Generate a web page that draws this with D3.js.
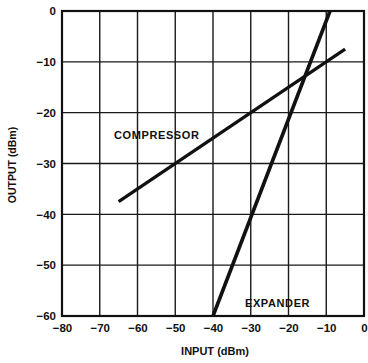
<!DOCTYPE html>
<html>
<head>
<meta charset="utf-8">
<script src="https://cdn.jsdelivr.net/npm/d3@7"></script>
<style>
  body { margin: 0; background: #fff; }
  text { font-family: "Liberation Sans", Arial, sans-serif; font-weight: bold; fill: #111; }
</style>
</head>
<body>
<div id="container"></div>
<script>
/* DATA */
const xTicks = [-80, -70, -60, -50, -40, -30, -20, -10, 0];
const yTicks = [0, -10, -20, -30, -40, -50, -60];
// compressor 2:1, expander 1:2 (input dBm, output dBm)
const compressorIn = [-65, -5];
const compressorOut = [-37.5, -7.5];
const expanderIn = [-40, -9];
const expanderOut = [-60, 0];

/* SIZE */
const width = 368,
  height = 363,
  margin = { top: 11, bottom: 47, left: 62, right: 4 };

const svg = d3.select('#container')
  .append('svg')
  .attr('width', width)
  .attr('height', height);

const xScale = d3.scaleLinear()
  .domain([-80, 0])
  .range([margin.left, width - margin.right]);

const yScale = d3.scaleLinear()
  .domain([-60, 0])
  .range([height - margin.bottom, margin.top]);

const fmt = d => d === 0 ? '0' : '\u2212' + Math.abs(d);

// grid lines
svg.append('g')
  .selectAll('line.vgrid')
  .data(xTicks)
  .join('line')
  .attr('class', 'vgrid')
  .attr('x1', d => xScale(d)).attr('x2', d => xScale(d))
  .attr('y1', yScale(0)).attr('y2', yScale(-60))
  .attr('stroke', '#1a1a1a')
  .attr('stroke-width', 1.4);

svg.append('g')
  .selectAll('line.hgrid')
  .data(yTicks)
  .join('line')
  .attr('class', 'hgrid')
  .attr('x1', xScale(-80)).attr('x2', xScale(0))
  .attr('y1', d => yScale(d)).attr('y2', d => yScale(d))
  .attr('stroke', '#1a1a1a')
  .attr('stroke-width', 1.4);

// frame
svg.append('rect')
  .attr('x', xScale(-80))
  .attr('y', yScale(0))
  .attr('width', xScale(0) - xScale(-80))
  .attr('height', yScale(-60) - yScale(0))
  .attr('fill', 'none')
  .attr('stroke', '#111')
  .attr('stroke-width', 2.2);

// axes (labels only)
const xAxis = d3.axisBottom(xScale).tickValues(xTicks).tickFormat(fmt).tickSize(0).tickPadding(8);
const yAxis = d3.axisLeft(yScale).tickValues(yTicks).tickFormat(fmt).tickSize(0).tickPadding(6);

svg.append('g')
  .attr('transform', `translate(0, ${yScale(-60)})`)
  .call(xAxis)
  .call(g => g.select('.domain').remove())
  .selectAll('text')
  .attr('font-size', 11.5)
  .attr('font-family', '"Liberation Sans", Arial, sans-serif')
  .attr('font-weight', 'bold')
  .attr('fill', '#111');

svg.append('g')
  .attr('transform', `translate(${xScale(-80)}, 0)`)
  .call(yAxis)
  .call(g => g.select('.domain').remove())
  .selectAll('text')
  .attr('font-size', 11.5)
  .attr('font-family', '"Liberation Sans", Arial, sans-serif')
  .attr('font-weight', 'bold')
  .attr('fill', '#111');

// curves
const line = d3.line()
  .x(d => xScale(d[0]))
  .y(d => yScale(d[1]));

svg.append('path')
  .datum(d3.zip(compressorIn, compressorOut))
  .attr('d', line)
  .attr('fill', 'none')
  .attr('stroke', '#111')
  .attr('stroke-width', 3.2);

svg.append('path')
  .datum(d3.zip(expanderIn, expanderOut))
  .attr('d', line)
  .attr('fill', 'none')
  .attr('stroke', '#111')
  .attr('stroke-width', 3.6);

// labels
svg.append('text')
  .attr('x', 114).attr('y', 139)
  .attr('font-size', 11)
  .attr('letter-spacing', 0.6)
  .text('COMPRESSOR');

svg.append('text')
  .attr('x', 245).attr('y', 307)
  .attr('font-size', 11)
  .attr('letter-spacing', 0.6)
  .text('EXPANDER');

svg.append('text')
  .attr('x', 215).attr('y', 355)
  .attr('text-anchor', 'middle')
  .attr('font-size', 11)
  .text('INPUT (dBm)');

svg.append('text')
  .attr('transform', 'translate(16, 165) rotate(-90)')
  .attr('text-anchor', 'middle')
  .attr('font-size', 10.5)
  .text('OUTPUT (dBm)');
</script>
</body>
</html>
